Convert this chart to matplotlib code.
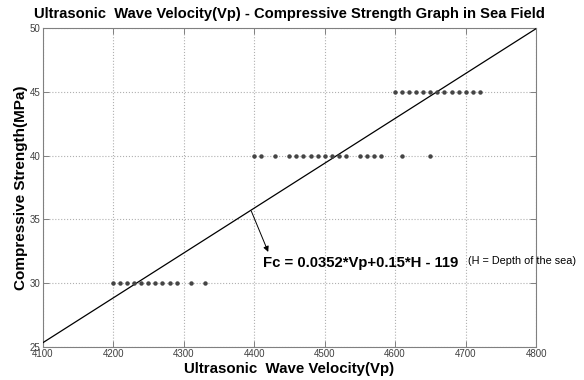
import numpy as np
import matplotlib
import matplotlib.pyplot as plt

matplotlib.use("Agg")

plt.rcParams["font.family"] = ["Liberation Sans", "DejaVu Sans"]

# strength levels (MPa) and the measured velocities at each level
vp_30 = [4200, 4210, 4220, 4230, 4240, 4250, 4260, 4270, 4280, 4290, 4310, 4330]
vp_40 = [4400, 4410, 4430, 4450, 4460, 4470, 4480, 4490, 4500, 4510, 4520,
         4530, 4550, 4560, 4570, 4580, 4610, 4650]
vp_45 = [4600, 4610, 4620, 4630, 4640, 4650, 4660, 4670, 4680, 4690, 4700, 4710, 4720]
levels = {30: vp_30, 40: vp_40, 45: vp_45}

# Fc = a*Vp + b*H + c  (drawn for H = 0)
coef_a = 0.0352
coef_b = 0.15
coef_c = -119
depth = 0
vp_line = np.array([4100, 4800])
fc_line = coef_a * vp_line + coef_b * depth + coef_c

xticks = [4100, 4200, 4300, 4400, 4500, 4600, 4700, 4800]
yticks = [25, 30, 35, 40, 45, 50]

fig = plt.figure(figsize=(5.84, 3.8), dpi=100)
ax = fig.add_axes([0.073, 0.087, 0.845, 0.839])

ax.plot(vp_line, fc_line, color="black", lw=0.9, zorder=3)

for fc, vps in levels.items():
    ax.plot(vps, [fc] * len(vps), "o", color="#454545", markersize=3.2,
            markeredgewidth=0, zorder=4)

ax.set_xlim(4100, 4800)
ax.set_ylim(25, 50)
ax.set_xticks(xticks)
ax.set_yticks(yticks)

ax.grid(True, linestyle=":", color="#b0b0b0", linewidth=0.8)
for s in ax.spines.values():
    s.set_color("#808080")
    s.set_linewidth(0.8)
ax.tick_params(direction="in", length=4, width=0.7, color="#808080",
               labelsize=7, labelcolor="#404040", pad=1.5, top=True, right=True)

ax.set_title("Ultrasonic  Wave Velocity(Vp) - Compressive Strength Graph in Sea Field",
             fontsize=10.6, fontweight="bold", pad=7)
ax.set_xlabel("Ultrasonic  Wave Velocity(Vp)", fontsize=10.8, fontweight="bold", labelpad=2)
ax.set_ylabel("Compressive Strength(MPa)", fontsize=11, fontweight="bold", labelpad=1)

ax.annotate("", xy=(4420, 32.45), xytext=(4396, 35.65),
            arrowprops=dict(arrowstyle="-|>", color="black", lw=0.7,
                            mutation_scale=8, shrinkA=0, shrinkB=0))
ax.text(4413, 31.6, "Fc = 0.0352*Vp+0.15*H - 119", fontsize=10.7, fontweight="bold",
        va="center", ha="left")
ax.text(4703, 31.75, "(H = Depth of the sea)", fontsize=7.8, va="center", ha="left",
        clip_on=False)

fig.savefig("out.png", dpi=100)
